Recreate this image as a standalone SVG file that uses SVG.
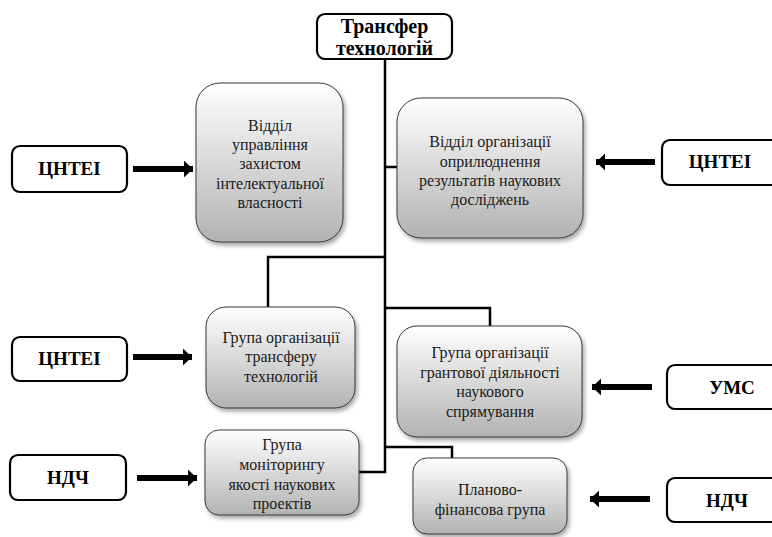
<svg xmlns="http://www.w3.org/2000/svg" width="772" height="537" viewBox="0 0 772 537" font-family="Liberation Serif, Times New Roman, serif">
<defs>
<linearGradient id="g" x1="0" y1="0" x2="0" y2="1">
<stop offset="0" stop-color="#ffffff"/>
<stop offset="1" stop-color="#b2b2b2"/>
</linearGradient>
<filter id="sh" x="-10%" y="-10%" width="130%" height="130%">
<feDropShadow dx="2" dy="3" stdDeviation="2" flood-color="#000" flood-opacity="0.35"/>
</filter>
<marker id="ah" viewBox="0 0 10 10" refX="10" refY="5" markerWidth="1.5" markerHeight="2.8" orient="auto" markerUnits="strokeWidth" preserveAspectRatio="none">
<path d="M0,0 L10,5 L0,10 Z" fill="#000"/>
</marker>
</defs>
<style>
.node{fill:url(#g);stroke:#3a3a3a;stroke-width:1;filter:url(#sh)}
.src{fill:#fff;stroke:#000;stroke-width:2.2}
.t{font-size:16px;fill:#1a1a1a;text-anchor:middle}
.b{font-size:19px;font-weight:bold;fill:#000;text-anchor:middle}
.ti{font-size:20px;font-weight:bold;fill:#000;text-anchor:middle}
.ln{fill:none;stroke:#000;stroke-width:2.5}
.ar{fill:none;stroke:#000;stroke-width:6;marker-end:url(#ah)}
</style>
<g id="connectors">
<path class="ln" d="M385,59 V472 H359"/>
<path class="ln" d="M385,167 H397"/>
<path class="ln" d="M385,257 H268 V307"/>
<path class="ln" d="M385,308 H490 V326"/>
<path class="ln" d="M385,447 H452 V458"/>
<path class="ar" d="M133,169 H193"/>
<path class="ar" d="M655,162 H596"/>
<path class="ar" d="M133,357 H192"/>
<path class="ar" d="M652,387 H592"/>
<path class="ar" d="M137,478 H197"/>
<path class="ar" d="M650,499 H590"/>
</g>
<g id="root">
<rect class="src" x="317" y="14" width="135" height="45" rx="8"/>
<text class="ti" x="384.5" y="33">Трансфер</text>
<text class="ti" x="384.5" y="55">технологій</text>
</g>
<g id="ipr">
<rect class="node" x="196" y="83" width="147" height="159" rx="24"/>
<text class="t" x="270" y="131">Відділ</text>
<text class="t" x="270" y="150">управління</text>
<text class="t" x="270" y="169">захистом</text>
<text class="t" x="270" y="189">інтелектуальної</text>
<text class="t" x="270" y="208">власності</text>
</g>
<g id="publish">
<rect class="node" x="397" y="98" width="186" height="140" rx="24"/>
<text class="t" x="490" y="147">Відділ організації</text>
<text class="t" x="490" y="167">оприлюднення</text>
<text class="t" x="490" y="186">результатів наукових</text>
<text class="t" x="490" y="205">досліджень</text>
</g>
<g id="transfer">
<rect class="node" x="206" y="307" width="149" height="101" rx="20"/>
<text class="t" x="281" y="343">Група організації</text>
<text class="t" x="281" y="362">трансферу</text>
<text class="t" x="281" y="382">технологій</text>
</g>
<g id="grant">
<rect class="node" x="397" y="326" width="185" height="111" rx="20"/>
<text class="t" x="490" y="358">Група організації</text>
<text class="t" x="490" y="378">грантової діяльності</text>
<text class="t" x="490" y="397">наукового</text>
<text class="t" x="490" y="417">спрямування</text>
</g>
<g id="monitor">
<rect class="node" x="205" y="430" width="154" height="85" rx="14"/>
<text class="t" x="282" y="450">Група</text>
<text class="t" x="282" y="470">моніторингу</text>
<text class="t" x="282" y="490">якості наукових</text>
<text class="t" x="282" y="509">проектів</text>
</g>
<g id="finance">
<rect class="node" x="413" y="458" width="154" height="76" rx="14"/>
<text class="t" x="490" y="495">Планово-</text>
<text class="t" x="490" y="515">фінансова група</text>
</g>
<g id="cntei1">
<rect class="src" x="12" y="146" width="115" height="46" rx="8"/>
<text class="b" x="69.5" y="175">ЦНТЕІ</text>
</g>
<g id="cntei2">
<rect class="src" x="662" y="140" width="125" height="45" rx="8"/>
<text class="b" x="720" y="168">ЦНТЕІ</text>
</g>
<g id="cntei3">
<rect class="src" x="12" y="337" width="115" height="44" rx="8"/>
<text class="b" x="69.5" y="365">ЦНТЕІ</text>
</g>
<g id="ums">
<rect class="src" x="667" y="365" width="120" height="44" rx="8"/>
<text class="b" x="732" y="394">УМС</text>
</g>
<g id="ndch1">
<rect class="src" x="10" y="455" width="116" height="45" rx="8"/>
<text class="b" x="68" y="484">НДЧ</text>
</g>
<g id="ndch2">
<rect class="src" x="667" y="478" width="120" height="44" rx="8"/>
<text class="b" x="727" y="507">НДЧ</text>
</g>
</svg>
